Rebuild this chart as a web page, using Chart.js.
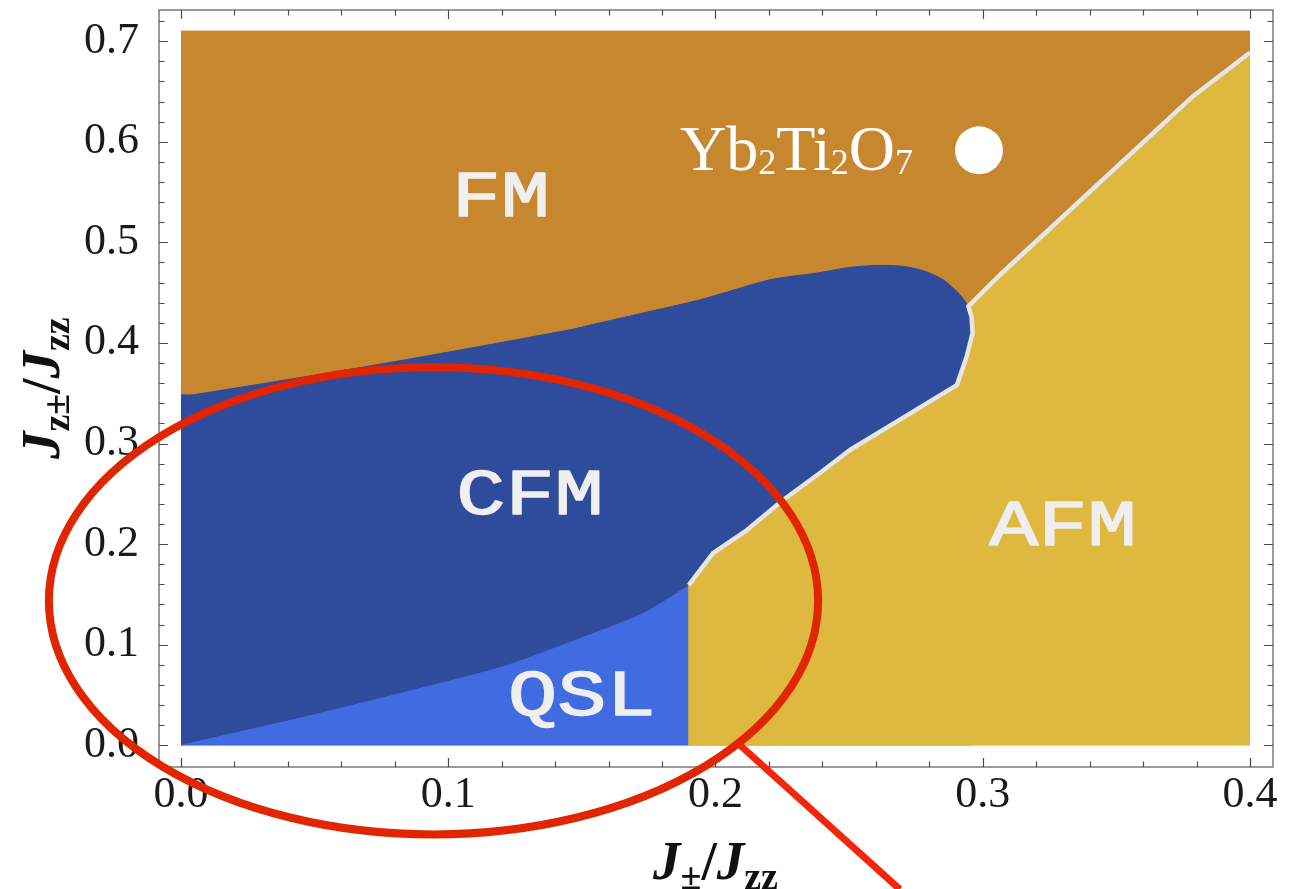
<!DOCTYPE html>
<html>
<head>
<meta charset="utf-8">
<script src="https://cdn.jsdelivr.net/npm/chart.js@4.4.1/dist/chart.umd.min.js"></script>
<style>
  html, body { margin: 0; padding: 0; background: #ffffff; }
  #wrap { width: 1296px; height: 889px; }
</style>
</head>
<body>
<div id="wrap"><canvas id="phase"></canvas></div>
<script>
// Ground-state phase diagram in the (J±/Jzz, Jz±/Jzz) plane.

// Upper edge of the plotted region (FM fills everything not claimed below)
const fmTopX = [0.0, 0.4];
const fmTopY = [0.71, 0.71];

// CFM / FM boundary, ending on the CFM / AFM bulge
const cfmEdgeX = [0.0, 0.0045, 0.077, 0.1456, 0.1568, 0.1942, 0.2204, 0.2379, 0.2503, 0.2603, 0.2703, 0.2778, 0.2852, 0.2909, 0.2946, 0.2958, 0.2962];
const cfmEdgeY = [0.3484, 0.3484, 0.380, 0.4131, 0.4200, 0.4429, 0.4628, 0.4695, 0.4751, 0.4771, 0.4761, 0.4718, 0.4628, 0.4496, 0.4363, 0.4263, 0.4098];

// QSL / CFM boundary, closed by the vertical edge at J± = 0.19
const qslEdgeX = [0.0, 0.0465, 0.0970, 0.1223, 0.1477, 0.1730, 0.1894, 0.19];
const qslEdgeY = [0.0, 0.0282, 0.0614, 0.0796, 0.1045, 0.1311, 0.1576, 0.1593];

// First-order line separating AFM from CFM and FM
const boundaryX = [0.19, 0.1991, 0.2118, 0.2253, 0.2391, 0.2503, 0.2627, 0.2903, 0.2940, 0.2962, 0.2958, 0.2946, 0.3065, 0.3502, 0.3787, 0.4];
const boundaryY = [0.1593, 0.1911, 0.2140, 0.2439, 0.2707, 0.2936, 0.3135, 0.3580, 0.3865, 0.4098, 0.4263, 0.4363, 0.4678, 0.5753, 0.6453, 0.6888];

// AFM region: foot of the QSL edge, then the boundary line
const afmEdgeX = [0.19].concat(boundaryX);
const afmEdgeY = [0.0].concat(boundaryY);

// Yb2Ti2O7 parameters
const ybX = [0.2986];
const ybY = [0.5915];

// Axis ticks
const xTickValues = [0.0, 0.1, 0.2, 0.3, 0.4];
const xTickLabels = ['0.0', '0.1', '0.2', '0.3', '0.4'];
const yTickValues = [0.0, 0.1, 0.2, 0.3, 0.4, 0.5, 0.6, 0.7];
const yTickLabels = ['0.0', '0.1', '0.2', '0.3', '0.4', '0.5', '0.6', '0.7'];

// Phase names and where they sit
const phaseNames = ['FM', 'CFM', 'QSL', 'AFM'];
const phaseX = [0.1197, 0.1306, 0.1500, 0.3300];
const phaseY = [0.5480, 0.2518, 0.0514, 0.2200];

// Compound label (left end of its baseline)
const compoundX = [0.1867];
const compoundY = [0.5723];

// Highlight ellipse around the low-J± corner and its pointer line
const ringCenter = [0.0945, 0.1436];
const ringRadius = [0.1439, 0.2322];
const pointerFrom = [0.2092, 0.0];
const pointerTo = [0.2690, -0.1433];

const COLORS = {
  fm: '#C6872F',
  afm: '#DFB840',
  cfm: '#2E4B9C',
  qsl: '#416BE0',
  edge: '#E6E6E6',
  text: '#EFEFEF',
  ring: '#E12500',
  pointer: '#F2260C'
};

const SERIF = '"Liberation Serif", "Times New Roman", serif';
const MONO = '"Liberation Mono", "Courier New", monospace';

function pts(xs, ys) {
  return xs.map((v, i) => ({ x: v, y: ys[i] }));
}

function region(label, xs, ys, color, order, tension) {
  return {
    label,
    data: pts(xs, ys),
    fill: 'origin',
    backgroundColor: color,
    borderColor: color,
    borderWidth: 1,
    pointRadius: 0,
    tension: tension || 0,
    order
  };
}

// Text runs with sub-scripts, laid out left to right from (x, baseline y)
function richWidth(ctx, parts) {
  let w = 0;
  for (const p of parts) { ctx.font = p.font; w += ctx.measureText(p.t).width; }
  return w;
}
function drawRich(ctx, parts, x, y) {
  let cx = x;
  for (const p of parts) {
    ctx.font = p.font;
    ctx.fillText(p.t, cx, y + (p.dy || 0));
    cx += ctx.measureText(p.t).width;
  }
}

const titleMain = 'italic bold 55px ' + SERIF;
const titleSlash = 'bold 55px ' + SERIF;
const titleSub = 'bold 38px ' + SERIF;
const xTitleParts = [
  { t: 'J', font: titleMain },
  { t: '±', font: titleSub, dy: 10 },
  { t: '/', font: titleSlash },
  { t: 'J', font: titleMain },
  { t: 'zz', font: titleSub, dy: 10 }
];
const yTitleParts = [
  { t: 'J', font: titleMain },
  { t: 'z±', font: titleSub, dy: 10 },
  { t: '/', font: titleSlash },
  { t: 'J', font: titleMain },
  { t: 'zz', font: titleSub, dy: 10 }
];

const compMain = '64px ' + SERIF;
const compSub = '36px ' + SERIF;
const compoundParts = [
  { t: 'Yb', font: compMain },
  { t: '2', font: compSub, dy: 4 },
  { t: 'Ti', font: compMain },
  { t: '2', font: compSub, dy: 4 },
  { t: 'O', font: compMain },
  { t: '7', font: compSub, dy: 4 }
];

// Phase names and the compound label, on top of the filled regions
const regionLabels = {
  id: 'regionLabels',
  afterDatasetsDraw(chart) {
    const { ctx, scales: { x, y } } = chart;
    ctx.save();
    ctx.fillStyle = COLORS.text;
    ctx.strokeStyle = COLORS.text;
    ctx.lineWidth = 1.4;
    ctx.lineJoin = 'round';
    ctx.textBaseline = 'alphabetic';
    ctx.textAlign = 'left';
    ctx.font = '64px ' + MONO;
    const capH = ctx.measureText('H').actualBoundingBoxAscent;
    const stretch = 1.28;
    phaseNames.forEach((name, i) => {
      const w = ctx.measureText(name).width * stretch;
      const px = x.getPixelForValue(phaseX[i]);
      const py = y.getPixelForValue(phaseY[i]);
      ctx.save();
      ctx.translate(px - w / 2, py + capH / 2);
      ctx.scale(stretch, 1);
      ctx.fillText(name, 0, 0);
      ctx.strokeText(name, 0, 0);
      ctx.restore();
    });
    ctx.fillStyle = '#FFFFFF';
    drawRich(ctx, compoundParts, x.getPixelForValue(compoundX[0]), y.getPixelForValue(compoundY[0]));
    ctx.restore();
  }
};

// Frame with inward ticks on all four sides, axis titles, and the highlight ring
const frameAndNotes = {
  id: 'frameAndNotes',
  afterDraw(chart) {
    const { ctx, chartArea: a, scales: { x, y } } = chart;
    ctx.save();

    ctx.strokeStyle = '#7A7A7A';
    ctx.lineWidth = 1.5;
    ctx.strokeRect(a.left, a.top, a.right - a.left, a.bottom - a.top);

    ctx.strokeStyle = '#4A4A4A';
    ctx.lineWidth = 1.2;
    ctx.beginPath();
    for (let i = 0; i * 0.02 <= x.max + 1e-9; i++) {
      const v = i * 0.02;
      const len = i % 5 === 0 ? 9 : 5.5;
      const px = Math.round(x.getPixelForValue(v)) + 0.5;
      ctx.moveTo(px, a.bottom); ctx.lineTo(px, a.bottom - len);
      ctx.moveTo(px, a.top); ctx.lineTo(px, a.top + len);
    }
    for (let i = 0; i * 0.02 <= y.max + 1e-9; i++) {
      const v = i * 0.02;
      const len = i % 5 === 0 ? 9 : 5.5;
      const py = Math.round(y.getPixelForValue(v)) + 0.5;
      ctx.moveTo(a.left, py); ctx.lineTo(a.left + len, py);
      ctx.moveTo(a.right, py); ctx.lineTo(a.right - len, py);
    }
    ctx.stroke();

    // axis titles
    ctx.fillStyle = '#111111';
    ctx.textAlign = 'left';
    ctx.textBaseline = 'alphabetic';
    const xMid = (x.getPixelForValue(0) + x.getPixelForValue(0.4)) / 2;
    const xw = richWidth(ctx, xTitleParts);
    drawRich(ctx, xTitleParts, xMid - xw / 2, 879);

    const yMid = (y.getPixelForValue(0) + y.getPixelForValue(0.71)) / 2;
    const yw = richWidth(ctx, yTitleParts);
    ctx.save();
    ctx.translate(59, yMid);
    ctx.rotate(-Math.PI / 2);
    drawRich(ctx, yTitleParts, -yw / 2, 0);
    ctx.restore();

    // highlight ring and pointer
    const cx = x.getPixelForValue(ringCenter[0]);
    const cy = y.getPixelForValue(ringCenter[1]);
    const rx = Math.abs(x.getPixelForValue(ringCenter[0] + ringRadius[0]) - cx);
    const ry = Math.abs(y.getPixelForValue(ringCenter[1] + ringRadius[1]) - cy);
    ctx.strokeStyle = COLORS.ring;
    ctx.lineWidth = 8;
    ctx.beginPath();
    ctx.ellipse(cx, cy, rx, ry, 0, 0, Math.PI * 2);
    ctx.stroke();

    ctx.strokeStyle = COLORS.pointer;
    ctx.lineWidth = 7;
    ctx.beginPath();
    ctx.moveTo(x.getPixelForValue(pointerFrom[0]), y.getPixelForValue(pointerFrom[1]));
    ctx.lineTo(x.getPixelForValue(pointerTo[0]), y.getPixelForValue(pointerTo[1]));
    ctx.stroke();

    ctx.restore();
  }
};

const tickFont = { family: SERIF, size: 44 };

new Chart(document.getElementById('phase'), {
  type: 'line',
  data: {
    datasets: [
      region('FM', fmTopX, fmTopY, COLORS.fm, 6, 0),
      region('CFM', cfmEdgeX, cfmEdgeY, COLORS.cfm, 5, 0.25),
      region('QSL', qslEdgeX, qslEdgeY, COLORS.qsl, 4, 0.25),
      region('AFM', afmEdgeX, afmEdgeY, COLORS.afm, 3, 0),
      {
        label: 'boundary',
        data: pts(boundaryX, boundaryY),
        fill: false,
        borderColor: COLORS.edge,
        borderWidth: 4.5,
        borderCapStyle: 'butt',
        borderJoinStyle: 'round',
        pointRadius: 0,
        tension: 0,
        order: 2
      },
      {
        label: 'Yb2Ti2O7',
        data: pts(ybX, ybY),
        showLine: false,
        fill: false,
        pointRadius: 24,
        pointBackgroundColor: '#FFFFFF',
        pointBorderColor: '#FFFFFF',
        pointBorderWidth: 0,
        order: 1
      }
    ]
  },
  options: {
    responsive: true,
    maintainAspectRatio: false,
    animation: false,
    events: [],
    layout: { autoPadding: false, padding: { left: 0, top: 10, right: 23, bottom: 0 } },
    plugins: {
      legend: { display: false },
      tooltip: { enabled: false },
      filler: { propagate: false }
    },
    scales: {
      x: {
        type: 'linear',
        min: -0.0082,
        max: 0.4086,
        grid: { display: false },
        border: { display: false },
        afterBuildTicks: (s) => { s.ticks = xTickValues.map((v) => ({ value: v })); },
        afterFit: (s) => { s.height = 122; s.paddingLeft = 0; s.paddingRight = 0; },
        ticks: {
          callback: (v, i) => xTickLabels[i],
          font: tickFont,
          color: '#1A1A1A',
          padding: -6,
          maxRotation: 0,
          autoSkip: false
        }
      },
      y: {
        type: 'linear',
        min: -0.0216,
        max: 0.731,
        grid: { display: false },
        border: { display: false },
        afterBuildTicks: (s) => { s.ticks = yTickValues.map((v) => ({ value: v })); },
        afterFit: (s) => { s.width = 159; s.paddingTop = 0; s.paddingBottom = 0; },
        ticks: {
          callback: (v, i) => yTickLabels[i],
          font: tickFont,
          color: '#1A1A1A',
          padding: 12,
          autoSkip: false
        }
      }
    }
  },
  plugins: [regionLabels, frameAndNotes]
});
</script>
</body>
</html>
